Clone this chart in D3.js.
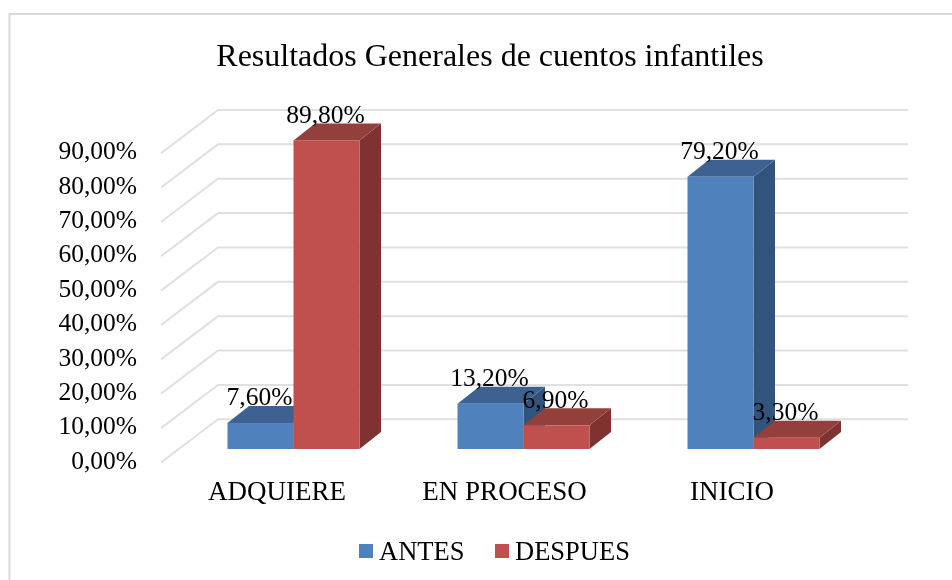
<!DOCTYPE html>
<html>
<head>
<meta charset="utf-8">
<script src="https://cdnjs.cloudflare.com/ajax/libs/d3/7.8.5/d3.min.js"></script>
<style>
	html, body { margin: 0; padding: 0; background: #fff; }
	svg { display: block; filter: blur(0.7px); }
	text { font-family: "Liberation Serif", serif; fill: #000; }
	.axis path, .axis line { display: none; }
</style>
</head>
<body>
<div id="chart"></div>
<script>
var categories = ["ADQUIERE", "EN PROCESO", "INICIO"]
var seriesNames = ["ANTES", "DESPUES"]
var antes = [7.6, 13.2, 79.2]
var despues = [89.8, 6.9, 3.3]
var yTicks = [0, 10, 20, 30, 40, 50, 60, 70, 80, 90]
var titleText = "Resultados Generales de cuentos infantiles"

var width = 952
var height = 580

var colors = {
	ANTES: { front: "#4f81bd", top: "#3d6291", side: "#31547c" },
	DESPUES: { front: "#c0504d", top: "#93403d", side: "#7f3230" }
}

function pct(num) {
	return num.toFixed(2).replace(".", ",") + "%"
}

var svg = d3.select("#chart").append("svg")
	.attr("width", width)
	.attr("height", height)

// frame
svg.append("rect")
	.attr("x", 9.5)
	.attr("y", 14)
	.attr("width", 960)
	.attr("height", 600)
	.attr("fill", "none")
	.attr("stroke", "#d9d9d9")
	.attr("stroke-width", 2)

svg.append("text")
	.attr("x", 490)
	.attr("y", 66)
	.attr("text-anchor", "middle")
	.style("font-size", "32px")
	.text(titleText)

// y scale is on the plane the bars stand on
var y = d3.scaleLinear().domain([0, 90]).range([449, 139.7])
var x = d3.scaleBand().domain(categories).range([161, 851])
// the category labels sit a little tighter than the bars
var xLabels = d3.scaleBand().domain(categories).range([163.25, 845.75])

var frontShift = { x: 0, y: 13.5 }
var backShift = { x: 57, y: -29.7 }
var barShift = 17.5
var depth = { x: 21.5, y: -17 }
var barWidth = 66

// grid
var grid = svg.append("g")
yTicks.forEach(function(t) {
	var pts = [
		[x.range()[0] + frontShift.x, y(t) + frontShift.y],
		[x.range()[0] + backShift.x, y(t) + backShift.y],
		[x.range()[1] + backShift.x, y(t) + backShift.y]
	]
	grid.append("path")
		.attr("d", d3.line()(pts))
		.attr("fill", "none")
		.attr("stroke", "#e0e0e0")
		.attr("stroke-width", 2)
})

function drawBar(cat, value, name, i) {
	var c = colors[name]
	var x0 = x(cat) + x.bandwidth() / 2 + barShift + (i - 1) * barWidth
	var x1 = x0 + barWidth
	var y0 = y(0)
	var y1 = y(value)
	var g = svg.append("g")
	g.append("polygon")
		.attr("fill", c.side)
		.attr("points", [[x1, y1], [x1 + depth.x, y1 + depth.y], [x1 + depth.x, y0 + depth.y], [x1, y0]].join(" "))
	g.append("polygon")
		.attr("fill", c.top)
		.attr("points", [[x0, y1], [x0 + depth.x, y1 + depth.y], [x1 + depth.x, y1 + depth.y], [x1, y1]].join(" "))
	g.append("rect")
		.attr("x", x0)
		.attr("y", y1)
		.attr("width", barWidth)
		.attr("height", y0 - y1)
		.attr("fill", c.front)
}

categories.forEach(function(cat, k) {
	drawBar(cat, antes[k], "ANTES", 0)
	drawBar(cat, despues[k], "DESPUES", 1)
})

// data labels go on top of all the bars
categories.forEach(function(cat, k) {
	[antes[k], despues[k]].forEach(function(v, i) {
		svg.append("text")
			.attr("x", x(cat) + x.bandwidth() / 2 + barShift + (i - 1) * barWidth + barWidth / 2 - 1)
			.attr("y", y(v) - 17.5)
			.attr("text-anchor", "middle")
			.style("font-size", "25.5px")
			.text(pct(v))
	})
})

// axes
var yAxis = d3.axisLeft(y).tickValues(yTicks).tickFormat(pct).tickSize(0).tickPadding(0)
svg.append("g")
	.attr("class", "axis")
	.attr("transform", "translate(137,11)")
	.call(yAxis)
	.selectAll("text")
	.style("font-size", "25.5px")
	.style("font-family", "'Liberation Serif', serif")

var xAxis = d3.axisBottom(xLabels).tickSize(0).tickPadding(0)
svg.append("g")
	.attr("class", "axis")
	.attr("transform", "translate(0,481)")
	.call(xAxis)
	.selectAll("text")
	.style("font-size", "27px")
	.style("font-family", "'Liberation Serif', serif")

// legend
var legendX = [359, 495]
seriesNames.forEach(function(name, i) {
	svg.append("rect")
		.attr("x", legendX[i])
		.attr("y", 544)
		.attr("width", 14)
		.attr("height", 14)
		.attr("fill", colors[name].front)
	svg.append("text")
		.attr("x", legendX[i] + 20)
		.attr("y", 560)
		.style("font-size", "26.5px")
		.text(name)
})
</script>
</body>
</html>
